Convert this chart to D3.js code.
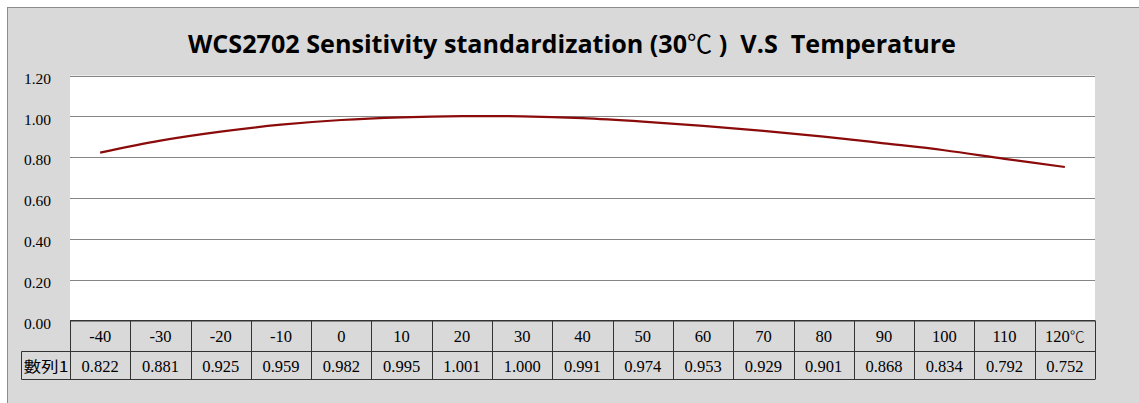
<!DOCTYPE html>
<html><head><meta charset="utf-8">
<script src="https://cdn.jsdelivr.net/npm/d3@7"></script>
<style>html,body{margin:0;padding:0;background:#fff;}svg{display:block;}</style>
</head><body>
<script>
const categories = ["-40","-30","-20","-10","0","10","20","30","40","50","60","70","80","90","100","110","120℃"];
const values = [0.822,0.881,0.925,0.959,0.982,0.995,1.001,1.000,0.991,0.974,0.953,0.929,0.901,0.868,0.834,0.792,0.752];
const valueLabels = ["0.822","0.881","0.925","0.959","0.982","0.995","1.001","1.000","0.991","0.974","0.953","0.929","0.901","0.868","0.834","0.792","0.752"];
const yTicks = [0,0.2,0.4,0.6,0.8,1.0,1.2];
const seriesName = "數列1";
const titleA = "WCS2702 Sensitivity standardization (30";
const titleDeg = "℃";
const titleB = " )  V.S  Temperature";

(function(){
const W = 1139, H = 403;
const svg = d3.select("body").append("svg").attr("width", W).attr("height", H);
svg.append("rect").attr("width", W).attr("height", H).attr("fill", "#fff");
svg.append("rect").attr("x", 7).attr("y", 7).attr("width", W - 7).attr("height", H - 7).attr("fill", "#d9d9d9");
svg.append("line").attr("x1", 7).attr("x2", W).attr("y1", 7.5).attr("y2", 7.5).attr("stroke", "#8c8c8c");
svg.append("line").attr("x1", 7.5).attr("x2", 7.5).attr("y1", 7).attr("y2", H).attr("stroke", "#8c8c8c");

const pLeft = 70, pRight = 1095, pTop = 75.5, pBottom = 320.5;
const x = d3.scaleBand().domain(categories).range([pLeft, pRight]);
const y = d3.scaleLinear().domain([0, 1.2]).range([pBottom, pTop]);

svg.append("rect").attr("x", pLeft).attr("y", pTop).attr("width", pRight - pLeft).attr("height", pBottom - pTop).attr("fill", "#fff");

svg.append("g").selectAll("line").data(yTicks).join("line")
  .attr("x1", pLeft).attr("x2", pRight)
  .attr("y1", d => Math.round(y(d)) + 0.5).attr("y2", d => Math.round(y(d)) + 0.5)
  .attr("stroke", "#868686").attr("stroke-width", 1);

const serifFont = "'Liberation Serif', 'DejaVu Serif', serif";
const yAxis = d3.axisLeft(y).tickValues(yTicks).tickFormat(d3.format(".2f")).tickSize(0).tickPadding(19);
const ga = svg.append("g").attr("transform", `translate(${pLeft},0)`).call(yAxis);
ga.select(".domain").remove();
ga.selectAll("text").attr("font-family", serifFont).attr("font-size", 15.5).attr("fill", "#000").attr("dy", "0.5em");

const line = d3.line().x((d, i) => x(categories[i]) + x.bandwidth() / 2).y(d => y(d)).curve(d3.curveCatmullRom.alpha(0.5));
svg.append("path").datum(values).attr("d", line).attr("fill", "none").attr("stroke", "#8b0a0a").attr("stroke-width", 2.2);

const r1 = 320.5, r2 = 351.5, r3 = 379.5, tl = 21.5;
const tg = svg.append("g");
tg.append("line").attr("x1", pLeft).attr("x2", pRight).attr("y1", r1).attr("y2", r1).attr("stroke", "#333");
tg.append("line").attr("x1", tl).attr("x2", pRight).attr("y1", r2).attr("y2", r2).attr("stroke", "#333");
tg.append("line").attr("x1", tl).attr("x2", pRight).attr("y1", r3).attr("y2", r3).attr("stroke", "#333");
tg.append("line").attr("x1", tl).attr("x2", tl).attr("y1", r2).attr("y2", r3).attr("stroke", "#333");
const edges = categories.map(c => x(c)).concat([pRight]);
tg.selectAll("line.v").data(edges).join("line").attr("class", "v")
  .attr("x1", d => Math.round(d) + 0.5).attr("x2", d => Math.round(d) + 0.5)
  .attr("y1", r1).attr("y2", r3).attr("stroke", "#333");
const cats = tg.selectAll("text.cat").data(categories).join("text").attr("class", "cat")
  .attr("x", d => x(d) + x.bandwidth() / 2).attr("y", (r1 + r2) / 2 + 6)
  .attr("text-anchor", "middle").attr("font-family", serifFont).attr("font-size", 16.5);
cats.each(function(d) {
  const sel = d3.select(this);
  const parts = d.split("℃");
  sel.append("tspan").text(parts[0]);
  if (parts.length > 1) sel.append("tspan").attr("font-family", "'Noto Sans CJK TC', sans-serif").attr("font-weight", 300).attr("font-size", 15).text("℃");
});
tg.selectAll("text.val").data(valueLabels).join("text").attr("class", "val")
  .attr("x", (d, i) => x(categories[i]) + x.bandwidth() / 2).attr("y", (r2 + r3) / 2 + 6)
  .attr("text-anchor", "middle").attr("font-family", serifFont).attr("font-size", 16.5).text(d => d);
tg.append("text").attr("x", tl + 2).attr("y", (r2 + r3) / 2 + 6)
  .attr("font-family", "'Noto Sans CJK TC', serif").attr("font-size", 15).attr("textLength", 45).attr("lengthAdjust", "spacingAndGlyphs").text(seriesName);

const t = svg.append("text").attr("x", 572).attr("y", 53).attr("text-anchor", "middle")
  .attr("font-family", "'Open Sans', 'Liberation Sans', sans-serif").attr("font-weight", "bold").attr("font-size", 25)
  .attr("textLength", 768).attr("lengthAdjust", "spacingAndGlyphs").attr("xml:space", "preserve");
t.append("tspan").text(titleA);
t.append("tspan").attr("font-family", "'Noto Sans CJK TC', sans-serif").attr("font-weight", "normal").text(titleDeg);
t.append("tspan").text(titleB);
})();
</script>
</body></html>
